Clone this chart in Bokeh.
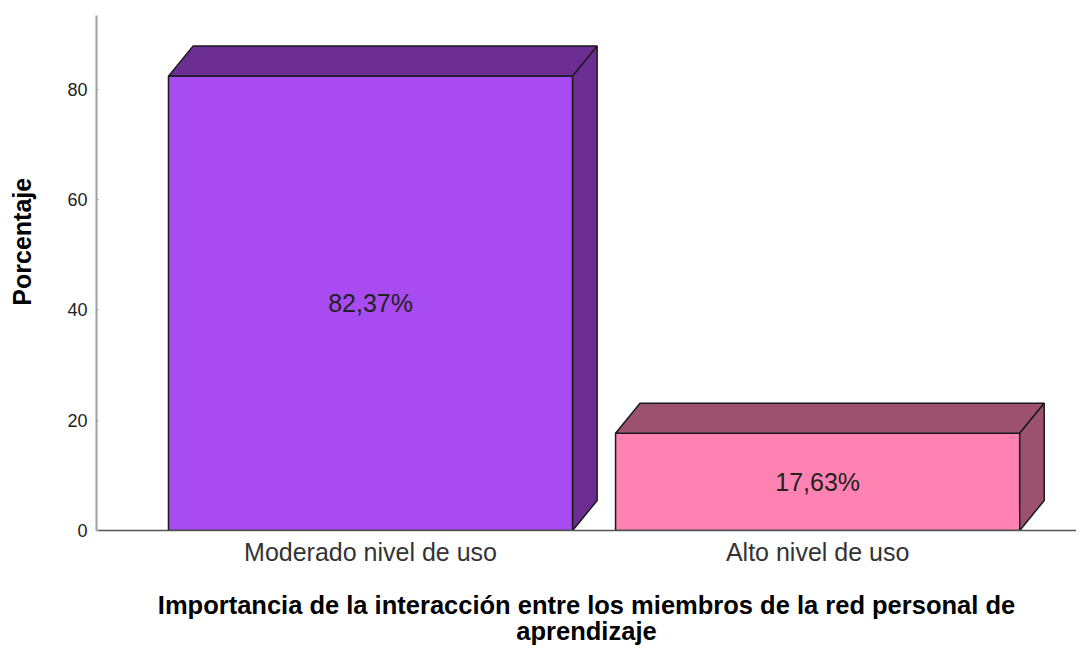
from bokeh.plotting import figure
from bokeh.models import Range1d, FixedTicker, ColumnDataSource
from bokeh.core.properties import value
from bokeh.embed import file_html
from bokeh.resources import INLINE

categories = ["Moderado nivel de uso", "Alto nivel de uso"]
percentages = [82.37, 17.63]
front_colors = ["#A84BF1", "#FF82B2"]
shade_colors = ["#6B2D92", "#9C526E"]
y_ticks = [0, 20, 40, 60, 80]
y_label = "Porcentaje"
x_label = "Importancia de la interacción entre los miembros de la red personal de\naprendizaje"

FONT = "Liberation Sans"

# geometry (style) parameters
bar_w = 0.904
dx = 0.0548
dy = 5.44

xs = [i + 0.5 for i in range(len(categories))]
lefts = [x - bar_w / 2 for x in xs]
rights = [x + bar_w / 2 for x in xs]

p = figure(width=1076, height=648, output_backend="svg", toolbar_location=None,
           x_range=Range1d(-0.113, 2.079), y_range=Range1d(0, 93.36),
           min_border_left=96, min_border_top=15, min_border_right=0, min_border_bottom=118)
p.outline_line_color = None
p.xgrid.visible = False
p.ygrid.visible = False
p.background_fill_color = "white"
p.border_fill_color = "white"

front = ColumnDataSource(dict(left=lefts, right=rights, top=percentages, color=front_colors))
p.quad(left="left", right="right", bottom=0, top="top", fill_color="color",
       line_color="#1a1a1a", line_width=1.5, source=front)

top_xs, top_ys, side_xs, side_ys = [], [], [], []
for l, r, v in zip(lefts, rights, percentages):
    top_xs.append([l, l + dx, r + dx, r])
    top_ys.append([v, v + dy, v + dy, v])
    side_xs.append([r, r + dx, r + dx, r])
    side_ys.append([0, dy, v + dy, v])
p.patches(xs=top_xs, ys=top_ys, fill_color=shade_colors, line_color="#1a1a1a", line_width=1.5)
p.patches(xs=side_xs, ys=side_ys, fill_color=shade_colors, line_color="#1a1a1a", line_width=1.5)

labels = ColumnDataSource(dict(x=xs, y=[v / 2 for v in percentages],
                               t=[f"{v:.2f}".replace(".", ",") + "%" for v in percentages]))
p.text(x="x", y="y", text="t", source=labels, text_align="center", text_baseline="middle",
       text_font=value(FONT), text_font_size="25px", text_color="#222222")

# y axis
ya = p.yaxis[0]
ya.ticker = FixedTicker(ticks=y_ticks)
ya.minor_tick_line_color = None
ya.major_tick_in = 2
ya.major_tick_out = 0
ya.major_tick_line_color = "#a0a0a0"
ya.axis_line_color = "#a0a0a0"
ya.axis_line_width = 2
ya.major_label_text_font = FONT
ya.major_label_text_font_size = "18px"
ya.major_label_text_color = "#222222"
ya.major_label_standoff = 9
# non-breaking spaces lift the label above the frame centre, as in the original
ya.axis_label = "\u00a0" * 9 + y_label
ya.axis_label_text_font = FONT
ya.axis_label_text_font_style = "bold"
ya.axis_label_text_font_size = "25px"
ya.axis_label_text_color = "#000000"
ya.axis_label_standoff = 28

# x axis
xa = p.xaxis[0]
xa.ticker = FixedTicker(ticks=xs)
xa.major_label_overrides = {x: c for x, c in zip(xs, categories)}
xa.minor_tick_line_color = None
xa.major_tick_line_color = None
xa.major_tick_in = 0
xa.major_tick_out = 0
xa.axis_line_color = "#555555"
xa.axis_line_width = 1.5
xa.major_label_text_font = FONT
xa.major_label_text_font_size = "25px"
xa.major_label_text_color = "#333333"
xa.major_label_standoff = 7
xa.axis_label = x_label
xa.axis_label_text_font = FONT
xa.axis_label_text_font_style = "bold"
xa.axis_label_text_font_size = "25.5px"
xa.axis_label_text_line_height = 0.93
xa.axis_label_text_color = "#000000"
xa.axis_label_standoff = 22

open("out.html", "w").write(file_html(p, INLINE))
